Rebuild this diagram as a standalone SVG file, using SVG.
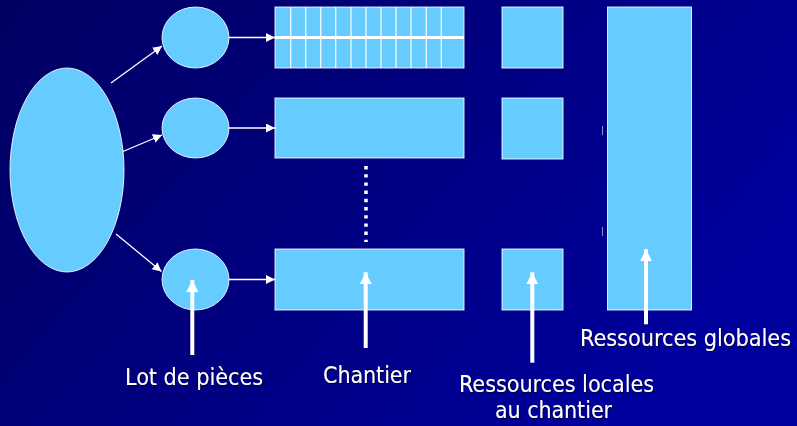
<svg xmlns="http://www.w3.org/2000/svg" width="797" height="426" viewBox="0 0 797 426">
  <defs>
    <linearGradient id="bg" x1="0" y1="0" x2="1" y2="0.45">
      <stop offset="0" stop-color="#000062"/>
      <stop offset="1" stop-color="#00009C"/>
    </linearGradient>
    <marker id="thin" markerUnits="userSpaceOnUse" markerWidth="10" markerHeight="10" refX="9" refY="4.5" orient="auto">
      <path d="M0,0 L9,4.5 L0,9 Z" fill="#FFFFFF"/>
    </marker>
    <marker id="thick" markerUnits="userSpaceOnUse" markerWidth="13" markerHeight="13" refX="12" refY="6" orient="auto">
      <path d="M0,0 L12,6 L0,12 Z" fill="#FFFFFF"/>
    </marker>
    <filter id="shadow" x="-5%" y="-20%" width="110%" height="140%">
      <feDropShadow dx="1" dy="1" stdDeviation="0.4" flood-color="#000030" flood-opacity="0.8"/>
    </filter>
  </defs>
  <style>
    .shape { fill: #66CCFF; stroke: #FFFFFF; stroke-width: 1; stroke-opacity: 0.85; }
    .link { stroke: #FFFFFF; stroke-width: 1.3; fill: none; marker-end: url(#thin); }
    .pointer { stroke: #FFFFFF; stroke-width: 4; fill: none; marker-end: url(#thick); }
    .grid { stroke: #FFFFFF; stroke-width: 1.4; stroke-opacity: 0.85; }
    .tick { stroke: #8A8AD0; stroke-width: 1; }
    .label { font-family: "DejaVu Sans Condensed", "DejaVu Sans", "Liberation Sans", sans-serif; font-stretch: condensed; font-size: 23px; fill: #FFFFFF; text-anchor: middle; filter: url(#shadow); }
  </style>

  <rect x="0" y="0" width="797" height="426" fill="url(#bg)"/>

  <!-- source -->
  <g id="source">
    <ellipse class="shape" cx="67" cy="170" rx="57" ry="102"/>
  </g>

  <!-- batches -->
  <g id="lot-1">
    <ellipse class="shape" cx="195.5" cy="37.5" rx="33.5" ry="30.5"/>
  </g>
  <g id="lot-2">
    <ellipse class="shape" cx="195.5" cy="128" rx="33.5" ry="30"/>
  </g>
  <g id="lot-3">
    <ellipse class="shape" cx="195.5" cy="279.5" rx="33.5" ry="30.5"/>
  </g>

  <!-- work sites -->
  <g id="chantier-1">
    <rect class="shape" x="275" y="7" width="189" height="61"/>
    <g class="grid">
      <line x1="290.7" y1="7" x2="290.7" y2="68"/>
      <line x1="305.7" y1="7" x2="305.7" y2="68"/>
      <line x1="320.7" y1="7" x2="320.7" y2="68"/>
      <line x1="335.7" y1="7" x2="335.7" y2="68"/>
      <line x1="351" y1="7" x2="351" y2="68"/>
      <line x1="366" y1="7" x2="366" y2="68"/>
      <line x1="381" y1="7" x2="381" y2="68"/>
      <line x1="396" y1="7" x2="396" y2="68"/>
      <line x1="411" y1="7" x2="411" y2="68"/>
      <line x1="426.3" y1="7" x2="426.3" y2="68"/>
      <line x1="441.3" y1="7" x2="441.3" y2="68"/>
    </g>
    <line x1="275" y1="37.5" x2="464" y2="37.5" stroke="#FFFFFF" stroke-width="3"/>
  </g>
  <g id="chantier-2">
    <rect class="shape" x="275" y="98" width="189" height="60"/>
  </g>
  <g id="chantier-3">
    <rect class="shape" x="275" y="249" width="189" height="61"/>
  </g>

  <!-- local resources -->
  <g id="local-1">
    <rect class="shape" x="502" y="7" width="61" height="61"/>
  </g>
  <g id="local-2">
    <rect class="shape" x="502" y="98" width="61" height="61"/>
  </g>
  <g id="local-3">
    <rect class="shape" x="502" y="249" width="61" height="61"/>
  </g>

  <!-- global resources -->
  <g id="global">
    <rect class="shape" x="607.5" y="7" width="84" height="303"/>
    <line class="tick" x1="602.5" y1="126" x2="602.5" y2="135"/>
    <line class="tick" x1="602.5" y1="227" x2="602.5" y2="236"/>
  </g>

  <!-- connectors -->
  <g id="connectors">
    <line class="link" x1="111" y1="83" x2="162" y2="46"/>
    <line class="link" x1="123" y1="151.5" x2="162" y2="135"/>
    <line class="link" x1="116" y1="234" x2="161.5" y2="271.5"/>
    <line class="link" x1="229" y1="37.5" x2="275" y2="37.5"/>
    <line class="link" x1="229" y1="128" x2="275" y2="128"/>
    <line class="link" x1="229" y1="279.5" x2="275" y2="279.5"/>
    <line x1="366" y1="166" x2="366" y2="242" stroke="#FFFFFF" stroke-width="3.5" stroke-dasharray="3.4 4.8"/>
    <line class="pointer" x1="192.3" y1="355" x2="192.3" y2="280"/>
    <line class="pointer" x1="365.7" y1="348" x2="365.7" y2="272.3"/>
    <line class="pointer" x1="532.3" y1="362.7" x2="532.3" y2="272.3"/>
    <line class="pointer" x1="646" y1="324.3" x2="646" y2="249.3"/>
  </g>

  <!-- labels -->
  <g id="labels">
    <text class="label" x="194" y="385" textLength="138" lengthAdjust="spacingAndGlyphs">Lot de pièces</text>
    <text class="label" x="367" y="383" textLength="88" lengthAdjust="spacingAndGlyphs">Chantier</text>
    <text class="label" x="556.5" y="392" textLength="195" lengthAdjust="spacingAndGlyphs">Ressources locales</text>
    <text class="label" x="553.5" y="418" textLength="117" lengthAdjust="spacingAndGlyphs">au chantier</text>
    <text class="label" x="685.5" y="346" textLength="211" lengthAdjust="spacingAndGlyphs">Ressources globales</text>
  </g>
</svg>
